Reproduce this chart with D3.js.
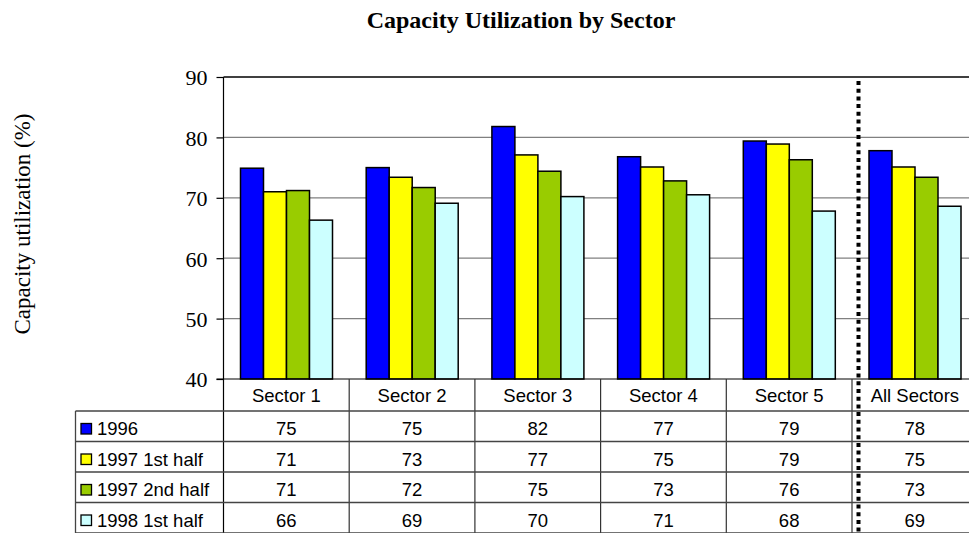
<!DOCTYPE html>
<html>
<head>
<meta charset="utf-8">
<script src="https://cdn.jsdelivr.net/npm/d3@7/dist/d3.min.js"></script>
<style>
html,body{margin:0;padding:0;background:#fff;overflow:hidden;}
svg{display:block;}
</style>
</head>
<body>
<svg id="chart" width="969" height="533"></svg>
<script>
// ---- data ----
const categories = ["Sector 1", "Sector 2", "Sector 3", "Sector 4", "Sector 5", "All Sectors"];
const seriesNames = ["1996", "1997 1st half", "1997 2nd half", "1998 1st half"];
const seriesColors = ["#0000FF", "#FFFF00", "#99CC00", "#CCFFFF"];
// bar heights
const values1996      = [74.9, 75.0, 81.8, 76.8, 79.4, 77.8];
const values1997first = [71.0, 73.4, 77.1, 75.1, 78.9, 75.1];
const values1997second= [71.2, 71.7, 74.4, 72.8, 76.3, 73.4];
const values1998first = [66.3, 69.1, 70.2, 70.5, 67.8, 68.6];
// numbers printed in the data table
const table1996       = [75, 75, 82, 77, 79, 78];
const table1997first  = [71, 73, 77, 75, 79, 75];
const table1997second = [71, 72, 75, 73, 76, 73];
const table1998first  = [66, 69, 70, 71, 68, 69];
const yTicks = [40, 50, 60, 70, 80, 90];
const title = "Capacity Utilization by Sector";
const yTitle = "Capacity utilization (%)";

const seriesValues = [values1996, values1997first, values1997second, values1998first];
const tableValues = [table1996, table1997first, table1997second, table1998first];

// ---- layout ----
const svg = d3.select("#chart");
const plotLeft = 223.5, catW = 125.7;
const plotTop = 77, plotBottom = 379;
const plotRight = plotLeft + categories.length * catW;
const tableLeft = 75.5;
const rowH = 30.5;
const headerBottom = 411;
const serif = "'Liberation Serif','Times New Roman',Times,serif";
const sans = "'Liberation Sans',Arial,Helvetica,sans-serif";

const x0 = d3.scaleBand().domain(categories).range([plotLeft, plotRight]).padding(0);
const x1 = d3.scaleBand().domain(seriesNames).range([17, 109]).padding(0);
const y = d3.scaleLinear().domain([40, 90]).range([plotBottom, plotTop]);

// title
svg.append("text")
  .attr("x", 521).attr("y", 27.5)
  .attr("text-anchor", "middle")
  .style("font-family", serif).style("font-weight", "bold").style("font-size", "24px")
  .text(title);

// y title
svg.append("text")
  .attr("transform", "translate(30,224) rotate(-90)")
  .attr("text-anchor", "middle")
  .style("font-family", serif).style("font-size", "23px")
  .text(yTitle);

// gridlines
svg.append("g").selectAll("line").data(yTicks.filter(t => t > 40 && t < 90)).join("line")
  .attr("x1", plotLeft).attr("x2", plotRight)
  .attr("y1", d => y(d)).attr("y2", d => y(d))
  .attr("stroke", "#808080").attr("stroke-width", 1.3);
// top border
svg.append("line").attr("x1", plotLeft).attr("x2", plotRight)
  .attr("y1", y(90)).attr("y2", y(90)).attr("stroke", "#000").attr("stroke-width", 1.3);

// y axis
const yAxis = d3.axisLeft(y).tickValues(yTicks).tickSize(7).tickPadding(9).tickFormat(d3.format("d"));
const gy = svg.append("g").attr("transform", `translate(${plotLeft},0)`).call(yAxis);
gy.select(".domain").remove();
gy.selectAll(".tick line").attr("stroke", "#000").attr("stroke-width", 1.2);
gy.selectAll(".tick text").style("font-family", serif).style("font-size", "22px").attr("fill", "#000").attr("dy", "0.36em");

// bars
const groups = svg.append("g").selectAll("g").data(categories).join("g")
  .attr("transform", d => `translate(${x0(d)},0)`);
groups.selectAll("rect").data((c, ci) => seriesNames.map((s, si) => ({s, si, v: seriesValues[si][ci]}))).join("rect")
  .attr("x", d => x1(d.s)).attr("width", x1.bandwidth())
  .attr("y", d => y(d.v)).attr("height", d => y(40) - y(d.v))
  .attr("fill", d => seriesColors[d.si])
  .attr("stroke", "#000").attr("stroke-width", 1.5);

// axis lines
svg.append("line").attr("x1", plotLeft - 7).attr("x2", plotRight)
  .attr("y1", plotBottom).attr("y2", plotBottom).attr("stroke", "#000").attr("stroke-width", 1.2);
svg.append("line").attr("x1", plotLeft).attr("x2", plotLeft)
  .attr("y1", plotTop).attr("y2", 533).attr("stroke", "#000").attr("stroke-width", 1.2);

// data table
const tbl = svg.append("g");
tbl.selectAll("line.v").data(categories.slice(1).concat(["__end"])).join("line")
  .attr("class", "v")
  .attr("x1", d => d === "__end" ? plotRight : x0(d)).attr("x2", d => d === "__end" ? plotRight : x0(d))
  .attr("y1", plotBottom).attr("y2", 533).attr("stroke", "#333").attr("stroke-width", 1.2);
const rowLines = d3.range(seriesNames.length + 1).map(i => headerBottom + i * rowH);
tbl.selectAll("line.h").data(rowLines).join("line")
  .attr("class", "h")
  .attr("x1", tableLeft).attr("x2", plotRight)
  .attr("y1", d => d).attr("y2", d => d).attr("stroke", "#444").attr("stroke-width", 1.3);
tbl.append("line").attr("x1", tableLeft).attr("x2", tableLeft)
  .attr("y1", headerBottom).attr("y2", 533).attr("stroke", "#444").attr("stroke-width", 1.3);

tbl.selectAll("text.hdr").data(categories).join("text")
  .attr("class", "hdr")
  .attr("x", d => x0(d) + x0.bandwidth() / 2).attr("y", 402)
  .attr("text-anchor", "middle")
  .style("font-family", sans).style("font-size", "18.5px")
  .text(d => d);

const rows = tbl.selectAll("g.row").data(seriesNames).join("g")
  .attr("class", "row")
  .attr("transform", (d, i) => `translate(0,${headerBottom + i * rowH})`);
rows.append("rect")
  .attr("x", 81).attr("y", 12.5).attr("width", 10.5).attr("height", 10.5)
  .attr("fill", (d, i) => seriesColors[i]).attr("stroke", "#000").attr("stroke-width", 1.3);
rows.append("text")
  .attr("x", 97).attr("y", 24)
  .style("font-family", sans).style("font-size", "18.5px")
  .text(d => d);
rows.selectAll("text.val").data((s, si) => categories.map((c, ci) => ({c, v: tableValues[si][ci]}))).join("text")
  .attr("class", "val")
  .attr("x", d => x0(d.c) + x0.bandwidth() / 2).attr("y", 24)
  .attr("text-anchor", "middle")
  .style("font-family", sans).style("font-size", "18.5px")
  .text(d => d.v);

// dotted separator before "All Sectors"
const sepX = x0("All Sectors") + 6.5;
svg.append("line").attr("x1", sepX).attr("x2", sepX)
  .attr("y1", 81).attr("y2", 533)
  .attr("stroke", "#000").attr("stroke-width", 4)
  .attr("stroke-dasharray", "4,3.7");
</script>
</body>
</html>
